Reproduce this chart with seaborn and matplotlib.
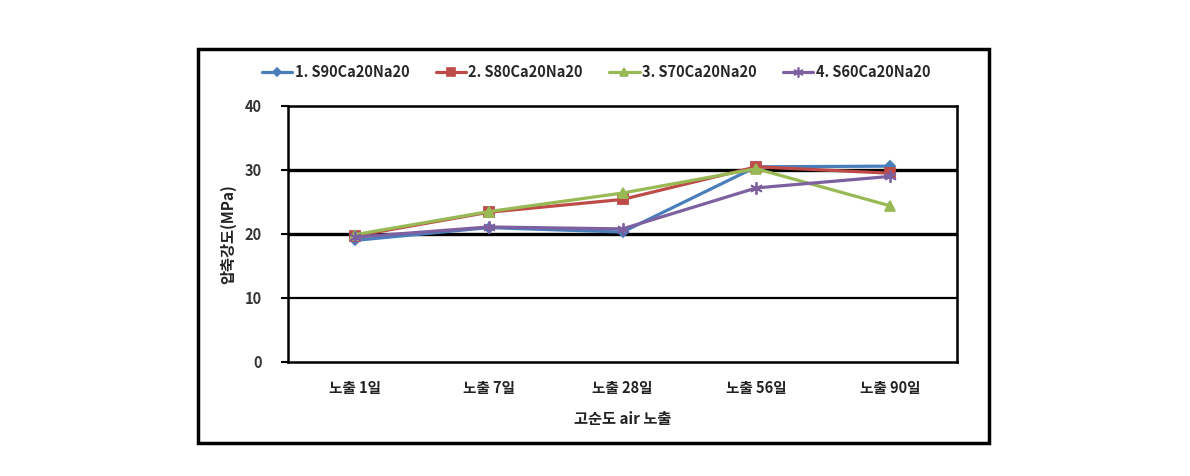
import matplotlib
matplotlib.use("Agg")
import matplotlib.pyplot as plt
from matplotlib.patches import Rectangle
from matplotlib.lines import Line2D
import seaborn as sns
import pandas as pd

categories = ["노출 1일", "노출 7일", "노출 28일", "노출 56일", "노출 90일"]
series_names = ["1. S90Ca20Na20", "2. S80Ca20Na20", "3. S70Ca20Na20", "4. S60Ca20Na20"]
s1 = [19.0, 21.0, 20.3, 30.5, 30.6]
s2 = [19.7, 23.4, 25.4, 30.5, 29.5]
s3 = [19.9, 23.5, 26.4, 30.2, 24.4]
s4 = [19.5, 21.1, 20.8, 27.2, 29.0]
y_ticks = [0, 10, 20, 30, 40]

colors = ["#4A7EBB", "#BE4B48", "#98B954", "#7D60A0"]
markers = ["D", "s", "^", (6, 2, 0)]
msizes = [5.5, 7, 7.5, 9]

rows = []
for name, vals in zip(series_names, [s1, s2, s3, s4]):
    for i, (c, v) in enumerate(zip(categories, vals)):
        rows.append({"idx": i, "cat": c, "series": name, "val": v})
df = pd.DataFrame(rows)

sns.set_theme(style="white")
plt.rcParams['font.family'] = ['Noto Sans CJK KR', 'DejaVu Sans']

fig = plt.figure(figsize=(11.9, 4.76), dpi=100)
ax = fig.add_axes([288/1190, 1-362/476, (957-288)/1190, (362-106)/476])

for name, c, m, ms in zip(series_names, colors, markers, msizes):
    sub = df[df["series"] == name]
    sns.lineplot(data=sub, x="idx", y="val", color=c, marker=m,
                 linewidth=2.3, markersize=ms, markeredgewidth=1.3,
                 markeredgecolor=c, ax=ax, legend=False, zorder=3)

ax.set_xlim(-0.5, 4.5)
ax.set_ylim(0, 40)
ax.set_yticks(y_ticks)
ax.set_xticks(range(len(categories)))
ax.set_xticklabels(categories, fontsize=10.5, fontweight='bold', color='#222222')
ax.set_yticklabels([str(t) for t in y_ticks], fontsize=10.5, fontweight='bold', color='#333333')
ax.tick_params(axis='y', length=5, width=1.5, color='black', direction='out', pad=14, left=True)
ax.tick_params(axis='x', length=0, pad=13)
for yv, lw in [(10, 1.6), (20, 2.4), (30, 2.4)]:
    ax.axhline(yv, color='black', linewidth=lw, zorder=1)
for sp in ax.spines.values():
    sp.set_color('black')
    sp.set_linewidth(1.8)
    sp.set_visible(True)
ax.set_xlabel("고순도 air 노출", fontsize=11, fontweight='bold', color='#222222', labelpad=11)
ax.set_ylabel("압축강도(MPa)", fontsize=11, fontweight='bold', color='#222222', labelpad=6)

handles = [Line2D([0], [0], color=c, marker=m, linewidth=2.3, markersize=ms * 0.8,
                  markeredgewidth=1.2, markeredgecolor=c)
           for c, m, ms in zip(colors, markers, msizes)]
fig.legend(handles, series_names, loc='center', bbox_to_anchor=(596/1190, 1-72/476),
           ncol=4, frameon=False, prop={'weight': 'bold', 'size': 10.5},
           handlelength=2.1, handletextpad=0.15, columnspacing=1.8)

fig.patches.append(Rectangle((198/1190, 1-443/476), (989-198)/1190, (443-49)/476,
                             transform=fig.transFigure, fill=False,
                             edgecolor='black', linewidth=2.5))

fig.savefig("out.png", dpi=100)
